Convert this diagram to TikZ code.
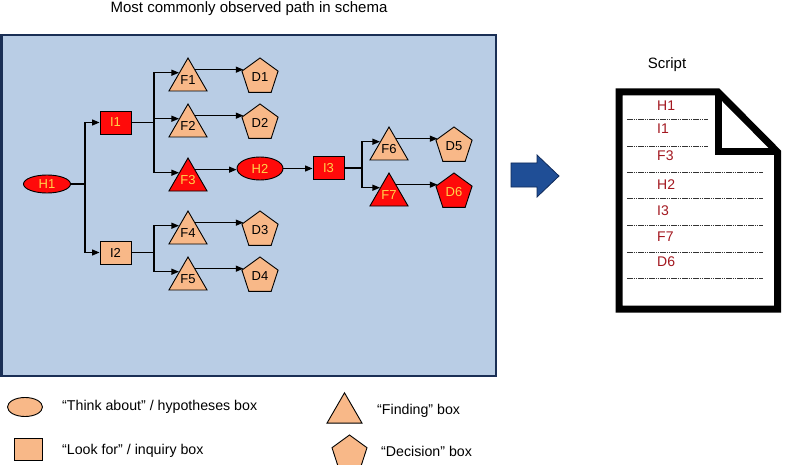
\documentclass[tikz,border=0pt]{standalone}
\usepackage{fontspec}
\setmainfont{Liberation Sans}
\usetikzlibrary{shapes.geometric,arrows.meta,calc}
\definecolor{bgblue}{HTML}{B9CDE5}
\definecolor{navy}{HTML}{1A2F55}
\definecolor{shorange}{HTML}{F8B888}
\definecolor{hotred}{HTML}{FF0A0A}
\definecolor{hotyellow}{HTML}{FFD34A}
\definecolor{doctext}{HTML}{A3171F}
\definecolor{bigarrow}{HTML}{1F4E96}
\definecolor{bigarrowedge}{HTML}{0F2A5A}
\begin{document}
\begin{tikzpicture}[x=1pt,y=-1pt,
  nodefont/.style={font=\fontsize{13}{15}\selectfont},
  hyp/.style={ellipse, draw, line width=0.9pt, inner sep=0pt, nodefont},
  inq/.style={rectangle, draw, line width=0.9pt, minimum width=31pt, minimum height=23pt, inner sep=0pt, nodefont},
  fnd/.style={regular polygon, regular polygon sides=3, minimum size=44pt, draw, line width=0.9pt, inner sep=0pt, nodefont},
  dec/.style={regular polygon, regular polygon sides=5, minimum size=38pt, draw, line width=0.9pt, inner sep=0pt, nodefont},
  pale/.style={fill=shorange, text=black},
  hot/.style={fill=hotred, text=hotyellow},
  ln/.style={line width=1.1pt},
  arr/.style={line width=1.1pt, -{Triangle[length=7.5pt,width=6pt]}},
  doctxt/.style={anchor=west, inner sep=0pt, text=doctext, font=\fontsize{14}{16}\selectfont},
  docline/.style={line width=0.8pt, black!80, dash pattern=on 1.6pt off 0.6pt},
  legtxt/.style={anchor=west, inner sep=0pt, font=\fontsize{14.2}{16}\selectfont}
]
\useasboundingbox (0,0) rectangle (810,465);

% title
\node[font=\fontsize{15}{17}\selectfont] (title) at (249,9) {Most commonly observed path in schema};

% background panel
\draw[line width=2.2pt, draw=navy, fill=bgblue] (1.5,35) rectangle (496,376);

% nodes
\node[hyp, hot, minimum width=47pt, minimum height=18pt] (H1) at (47,184) {H1};
\node[inq, hot] (I1) at (115.5,122.5) {I1};
\node[inq, pale] (I2) at (115.5,252.5) {I2};
\node[fnd, pale] (F1) at (188,80) {F1};
\node[fnd, pale] (F2) at (188,126) {F2};
\node[fnd, hot] (F3) at (188,180) {F3};
\node[fnd, pale] (F4) at (188,233) {F4};
\node[fnd, pale] (F5) at (188,279) {F5};
\node[dec, pale] (D1) at (260,77) {D1};
\node[dec, pale] (D2) at (260,123) {D2};
\node[dec, pale] (D3) at (260,230) {D3};
\node[dec, pale] (D4) at (260,276) {D4};
\node[hyp, hot, minimum width=46pt, minimum height=23pt] (H2) at (260,168.5) {H2};
\node[inq, hot] (I3) at (328.5,168) {I3};
\node[fnd, pale] (F6) at (389,149) {F6};
\node[fnd, hot] (F7) at (389,195) {F7};
\node[dec, pale] (D5) at (454,146) {D5};
\node[dec, hot] (D6) at (454,192) {D6};

% junctions
\coordinate (j1) at (85,184);
\coordinate (j2) at (154,122.5);
\coordinate (j3) at (154,252.5);
\coordinate (j4) at (362,168);

% connectors
\draw[ln] (H1.east) -- (j1);
\draw[arr] (j1) |- (I1.west);
\draw[arr] (j1) |- (I2.west);

\draw[ln] (I1.east) -- (j2);
\draw[arr] (j2) |- (F1.141);
\draw[arr] (j2) |- (F2.141);
\draw[arr] (j2) |- (F3.141);

\draw[ln] (I2.east) -- (j3);
\draw[arr] (j3) |- (F4.141);
\draw[arr] (j3) |- (F5.141);

\draw[arr] (F1.55) -- (F1.55 -| D1.west);
\draw[arr] (F2.55) -- (F2.55 -| D2.west);
\draw[arr] (F4.55) -- (F4.55 -| D3.west);
\draw[arr] (F5.55) -- (F5.55 -| D4.west);
\draw[arr] (F3.55) -- (F3.55 -| H2.west);
\draw[arr] (H2.east) -- (H2.east -| I3.west);

\draw[ln] (I3.east) -- (j4);
\draw[arr] (j4) |- (F6.141);
\draw[arr] (j4) |- (F7.141);
\draw[arr] (F6.55) -- (F6.55 -| D5.west);
\draw[arr] (F7.55) -- (F7.55 -| D6.west);

% big arrow
\draw[line width=0.8pt, draw=bigarrowedge, fill=bigarrow, line join=miter]
  (511,163) -- (537,163) -- (537,155) -- (559,176) -- (537,197) -- (537,187) -- (511,187) -- cycle;

% script document
\node[font=\fontsize{15}{17}\selectfont] (scr) at (667,65) {Script};
\draw[line width=7pt, line join=miter, fill=white]
  (619,92) -- (718,92) -- (777.5,152) -- (777.5,309) -- (619,309) -- cycle;
\draw[line width=7pt, line join=miter] (718,92) -- (718,152) -- (777.5,152);

\node[doctxt] (s1) at (657,105.5) {H1};
\node[doctxt] (s2) at (657,129) {I1};
\node[doctxt] (s3) at (657,156) {F3};
\node[doctxt] (s4) at (657,185) {H2};
\node[doctxt] (s5) at (657,211) {I3};
\node[doctxt] (s6) at (657,237) {F7};
\node[doctxt] (s7) at (657,262) {D6};

\draw[docline] (627,119) -- (708,119);
\draw[docline] (627,146) -- (708,146);
\draw[docline] (627,172) -- (763,172);
\draw[docline] (627,198) -- (763,198);
\draw[docline] (627,225) -- (763,225);
\draw[docline] (627,252) -- (763,252);
\draw[docline] (627,278) -- (763,278);

% legend
\node[hyp, pale, minimum width=35pt, minimum height=19pt] (lg1) at (25,407) {};
\node[legtxt] (lt1) at (62,407) {“Think about” / hypotheses box};
\node[inq, pale, minimum width=28pt, minimum height=22pt] (lg2) at (28,449) {};
\node[legtxt] (lt2) at (62,451) {“Look for” / inquiry box};
\node[fnd, pale, minimum size=40.4pt] (lg3) at (344.5,413) {};
\node[legtxt] (lt3) at (377,411) {“Finding” box};
\node[dec, pale, minimum size=36.8pt] (lg4) at (349.5,453.4) {};
\node[legtxt] (lt4) at (381,451) {“Decision” box};
\end{tikzpicture}
\end{document}
